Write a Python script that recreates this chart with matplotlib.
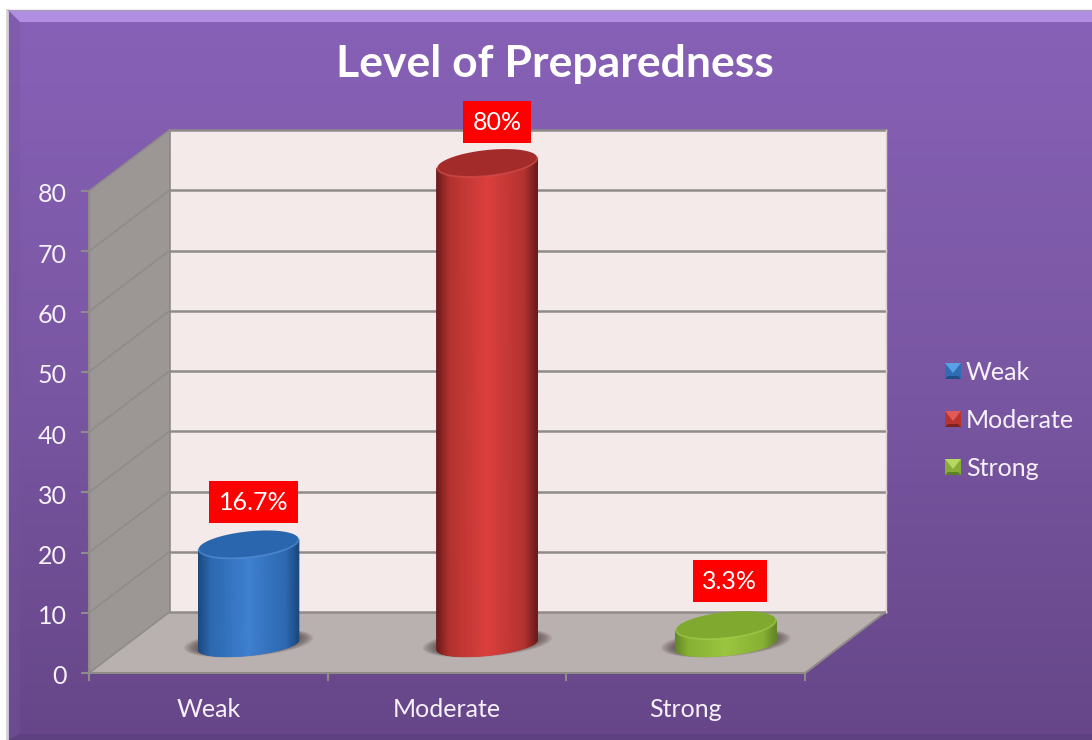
import matplotlib
matplotlib.use("Agg")
import matplotlib.pyplot as plt
import numpy as np
from matplotlib.colors import LinearSegmentedColormap
from matplotlib.transforms import ScaledTranslation

plt.rcParams["font.family"] = ["Lato", "DejaVu Sans"]

categories = ["Weak", "Moderate", "Strong"]
values = [16.7, 80, 3.3]
y_ticks = [0, 10, 20, 30, 40, 50, 60, 70, 80]

W, H = 1092, 740
LEFT, RIGHT, BOTTOM, TOP = 89, 805, 673, 191
PX, PY = 3 / (RIGHT - LEFT), 80 / (BOTTOM - TOP)   # data units per pixel
DX, DY = 80.5 * PX, 61 * PY                        # depth of the fake 3d box

TXT = "#f6f1fa"
GRID = "#8f8b89"
# edge, shoulder, centre, cap, rim, legend faces (top, side, bottom)
STYLES = [
    ("#1c4a80", "#2d68b0", "#3f80d0", "#2a66ad", "#5a94d8", ("#5aa0e6", "#2f6cb4", "#1f4f86")),
    ("#6e1c1c", "#b23230", "#dc403d", "#a32c2a", "#d9524e", ("#e05a56", "#b83431", "#7d2220")),
    ("#64882a", "#86b033", "#9ac63f", "#7fa92f", "#a8d050", ("#b4d860", "#88ac3a", "#5f7f28")),
]
LABEL_DX = [5, 10, 4]
LABEL_DY = [42, 41, 44]

fig = plt.figure(figsize=(W / 100, H / 100), dpi=100, facecolor="white")

# background panel, in pixels
bg = fig.add_axes([0, 0, 1, 1])
bg.axis("off")
grad = LinearSegmentedColormap.from_list("panel", ["#8761b7", "#7a57a3", "#664688"])
bg.imshow(np.linspace(0, 1, 256)[:, None], cmap=grad, aspect="auto", extent=(8, W, H, 10), zorder=1)
bg.set_xlim(0, W)
bg.set_ylim(H, 0)
bg.fill([8, W, W, 20], [10, 10, 22, 22], color="#b08ee2", lw=0, zorder=2)
bg.fill([8, 20, 20, 8], [10, 22, H - 6, H], color="#7755a0", alpha=0.35, lw=0, zorder=2)
bg.fill([8, W, W, 20], [H, H, H - 6, H - 6], color="#5c3f7d", alpha=0.7, lw=0, zorder=2)
bg.plot([7, 7], [10, H], color="#d4d0d8", lw=2, zorder=2)
bg.plot([8, W], [10, 10], color="#a99ac0", lw=1, zorder=3)

bg.text(555, 64, "Level of Preparedness", color="white", fontsize=32, fontweight="bold",
        ha="center", va="center", zorder=4)

# legend
for i, name in enumerate(categories):
    yc = 371 + i * 48
    x0, x1, y0, y1 = 945, 961, yc - 8, yc + 8
    top, side, low = STYLES[i][5]
    bg.fill([x0, x1, x1, x0], [y0, y0, y1, y1], color=side, lw=0, zorder=3)
    bg.fill([x0, x1, (x0 + x1) / 2], [y0, y0, yc + 2], color=top, lw=0, zorder=4)
    bg.fill([x0, x1, x1 - 3, x0 + 3], [y1, y1, y1 - 3, y1 - 3], color=low, lw=0, zorder=4)
    bg.text(966, yc + 1, name, color=TXT, fontsize=18, ha="left", va="center", zorder=4)

# chart, front plane of the box is the axes rectangle
ax = fig.add_axes([LEFT / W, 1 - BOTTOM / H, (RIGHT - LEFT) / W, (BOTTOM - TOP) / H], zorder=2)
ax.patch.set_visible(False)
ax.set_xlim(0, 3)
ax.set_ylim(0, 80)

# walls and floor
ax.fill([DX, 3 + DX, 3 + DX, DX], [DY, DY, 80 + DY, 80 + DY], color="#f4eaea", lw=0, clip_on=False, zorder=1)
ax.fill([0, DX, DX, 0], [0, DY, 80 + DY, 80], color="#9c9794", lw=0, clip_on=False, zorder=1)
ax.fill([0, 3, 3 + DX, DX], [0, 0, DY, DY], color="#b9b1af", lw=0, clip_on=False, zorder=1)
for v in y_ticks:
    ax.plot([DX, 3 + DX], [v + DY, v + DY], color=GRID, lw=1.8, clip_on=False, zorder=2)
    ax.plot([0, DX], [v, v + DY], color=GRID, lw=1.2, clip_on=False, zorder=2)
ax.plot([DX, DX], [DY, 80 + DY], color=GRID, lw=1.2, clip_on=False, zorder=2)
ax.plot([3 + DX, 3], [DY, 0], color=GRID, lw=1.5, clip_on=False, zorder=2)
ax.plot([3 + DX, 3 + DX], [DY, 80 + DY], color="#d8d0d0", lw=1, clip_on=False, zorder=2)


def ring(cx, cy, a, b, s, t):
    # sheared ellipse, a b s in pixels
    return cx + a * np.cos(t) * PX, cy + (b * np.sin(t) + s * np.cos(t)) * PY


# cylinders
A, B, B_LOW, S = 50, 13, 10.5, 5
theta = np.linspace(0, 2 * np.pi, 160)
front = np.linspace(np.pi, 2 * np.pi, 120)
base = 28 * PY
for i, (v, st) in enumerate(zip(values, STYLES)):
    cx = i + 0.5 + DX / 2
    for k in range(14):
        grow = 1.3 - k * 0.022
        sx, sy = ring(cx, base + 2 * PY, A * grow, B_LOW * grow, S, theta)
        ax.fill(sx, sy, color="#4a3a3a", alpha=0.07, lw=0, clip_on=False, zorder=3)
    cmap = LinearSegmentedColormap.from_list(
        "c", [(0, st[0]), (0.12, st[1]), (0.5, st[2]), (0.88, st[1]), (1, st[0])])
    xb, yb = ring(cx, base, A, B_LOW, S, front)
    xt, yt = ring(cx, base + v, A, B, S, front)
    X = np.stack([xb, xt])
    Y = np.stack([yb, yt])
    # shade against horizontal position so the light sits mid cylinder
    C = np.stack([(np.cos(front) + 1) / 2] * 2)
    ax.pcolormesh(X, Y, C, cmap=cmap, shading="gouraud", clip_on=False, zorder=4)
    cap_x, cap_y = ring(cx, base + v, A, B, S, theta)
    ax.fill(cap_x, cap_y, color=st[3], lw=0, clip_on=False, zorder=5)
    rx, ry = ring(cx, base + v, A, B, S, front)
    ax.plot(rx, ry, color=st[4], lw=1.3, alpha=0.6, clip_on=False, zorder=6)
    ax.text(cx + LABEL_DX[i] * PX, base + v + LABEL_DY[i] * PY, f"{v:g}%", color="white",
            fontsize=18, ha="center", va="center", clip_on=False, zorder=7,
            bbox=dict(boxstyle="square,pad=0.38", fc="#ff0000", ec="none"))

# axes, ticks and labels
for side in ("top", "right"):
    ax.spines[side].set_visible(False)
for side in ("left", "bottom"):
    ax.spines[side].set_color(GRID)
    ax.spines[side].set_linewidth(1.5)
ax.set_yticks(y_ticks)
ax.tick_params(axis="y", length=6, width=1.5, color=GRID, labelcolor=TXT, labelsize=18, pad=10)
nudge = ScaledTranslation(0, -2 / 100, fig.dpi_scale_trans)
for lab in ax.get_yticklabels():
    lab.set_transform(lab.get_transform() + nudge)
ax.set_xticks([0, 1, 2, 3])
ax.set_xticklabels([])
ax.tick_params(axis="x", which="major", length=6, width=1.5, color=GRID)
ax.set_xticks([0.5, 1.5, 2.5], minor=True)
ax.set_xticklabels(categories, minor=True)
ax.tick_params(axis="x", which="minor", length=0, labelcolor=TXT, labelsize=18, pad=18)

fig.savefig("out.png", dpi=100)
